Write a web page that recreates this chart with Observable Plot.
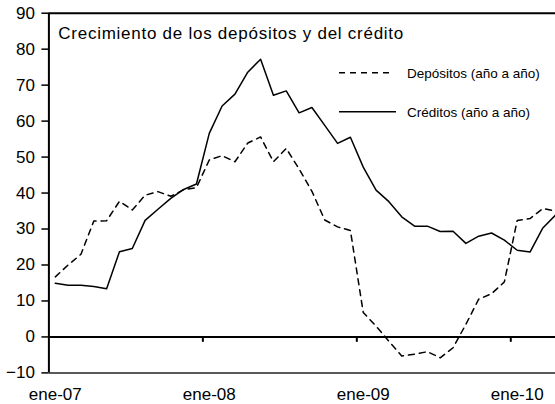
<!DOCTYPE html>
<html>
<head>
<meta charset="utf-8">
<script src="https://cdn.jsdelivr.net/npm/d3@7"></script>
<script src="https://cdn.jsdelivr.net/npm/@observablehq/plot@0.6"></script>
<style>
  body { margin: 0; background: #fff; }
  #chart svg { overflow: hidden; display: block; }
</style>
</head>
<body>
<div id="chart"></div>
<script>
// ---- Data ----
const months = [
  "ene-07","feb-07","mar-07","abr-07","may-07","jun-07","jul-07","ago-07","sep-07","oct-07","nov-07","dic-07",
  "ene-08","feb-08","mar-08","abr-08","may-08","jun-08","jul-08","ago-08","sep-08","oct-08","nov-08","dic-08",
  "ene-09","feb-09","mar-09","abr-09","may-09","jun-09","jul-09","ago-09","sep-09","oct-09","nov-09","dic-09",
  "ene-10","feb-10","mar-10","abr-10"
];
const depositos = [
  16.7, 20.0, 23.0, 32.2, 32.3, 37.7, 35.3, 39.4, 40.4, 39.1, 40.9, 41.5,
  49.2, 50.4, 48.7, 53.9, 55.6, 48.7, 52.4, 46.7, 40.5, 32.5, 30.6, 29.6,
  6.8, 3.0, -1.2, -5.3, -4.8, -4.1, -5.8, -3.0, 3.5, 10.5, 12.0, 15.3,
  32.4, 32.9, 35.7, 35.0
];
const creditos = [
  14.9, 14.4, 14.4, 14.0, 13.4, 23.7, 24.6, 32.4, 35.5, 38.5, 41.0, 42.5,
  56.6, 64.2, 67.5, 73.6, 77.2, 67.2, 68.4, 62.3, 63.8, 58.8, 53.8, 55.5,
  47.2, 40.8, 37.6, 33.4, 30.8, 30.8, 29.3, 29.4, 26.0, 28.0, 28.9, 26.9,
  24.1, 23.6, 30.3, 33.9
];
const yTicks = [-10, 0, 10, 20, 30, 40, 50, 60, 70, 80, 90];
const xTickLabels = ["ene-07", "ene-08", "ene-09", "ene-10"];
const title = "Crecimiento de los depósitos y del crédito";
const legendLabels = ["Depósitos (año a año)", "Créditos (año a año)"];

// ---- Derived tables ----
const dep = months.map((m, i) => ({i, m, v: depositos[i]}));
const cre = months.map((m, i) => ({i, m, v: creditos[i]}));
const labelIdx = xTickLabels.map(l => months.indexOf(l));
const yearBounds = labelIdx.slice(1).map(i => i - 0.5);

const FONT = "'Liberation Sans', Arial, sans-serif";

const chart = Plot.plot({
  width: 555,
  height: 404,
  marginLeft: 48.4,
  marginRight: -6.6,
  marginTop: 12.7,
  marginBottom: 31.6,
  style: {fontFamily: FONT, color: "#000", background: "#fff", overflow: "hidden"},
  x: {domain: [-0.5, months.length - 0.5], range: [48.4, 561.6]},
  y: {domain: [yTicks[0], yTicks[yTicks.length - 1]], range: [372.4, 12.7]},
  marks: [
    Plot.axisY({ticks: yTicks, tickSize: 7, tickPadding: 7, fontSize: 17, strokeWidth: 1.5, label: null}),
    Plot.axisX({ticks: labelIdx, tickFormat: i => months[i], tickSize: 0, tickPadding: 15.5, fontSize: 17, label: null}),
    Plot.ruleY([yTicks[yTicks.length - 1]], {strokeWidth: 2}),
    Plot.ruleY([yTicks[0]], {strokeWidth: 1.5, stroke: "#222"}),
    Plot.ruleX([-0.5], {strokeWidth: 2}),
    Plot.ruleY([0], {strokeWidth: 2}),
    Plot.ruleX(yearBounds, {y1: 0, y2: -1.5, strokeWidth: 2}),
    Plot.line(dep, {x: "i", y: "v", stroke: "#000", strokeDasharray: "6,5", strokeWidth: 1.5}),
    Plot.line(cre, {x: "i", y: "v", stroke: "#000", strokeWidth: 1.5})
  ]
});

// ---- Title and legend inside the plot area ----
const svg = d3.select(chart);
svg.append("text")
  .attr("x", 58.3).attr("y", 39)
  .attr("text-anchor", "start")
  .attr("font-family", FONT).attr("font-size", 17)
  .attr("textLength", 345).attr("lengthAdjust", "spacing")
  .attr("fill", "#000")
  .text(title);

const legend = svg.append("g")
  .attr("text-anchor", "start")
  .attr("font-family", FONT).attr("font-size", 13.5).attr("fill", "#000");
const legendRows = [
  {label: legendLabels[0], y: 72.7, dash: "6,5", x2: 393},
  {label: legendLabels[1], y: 111.7, dash: null, x2: 396}
];
legendRows.forEach(r => {
  legend.append("line")
    .attr("x1", 339).attr("x2", r.x2).attr("y1", r.y).attr("y2", r.y)
    .attr("stroke", "#000").attr("stroke-width", 1.5)
    .attr("stroke-dasharray", r.dash);
  legend.append("text")
    .attr("x", 407).attr("y", r.y + 5)
    .text(r.label);
});

document.getElementById("chart").appendChild(chart);
</script>
</body>
</html>
